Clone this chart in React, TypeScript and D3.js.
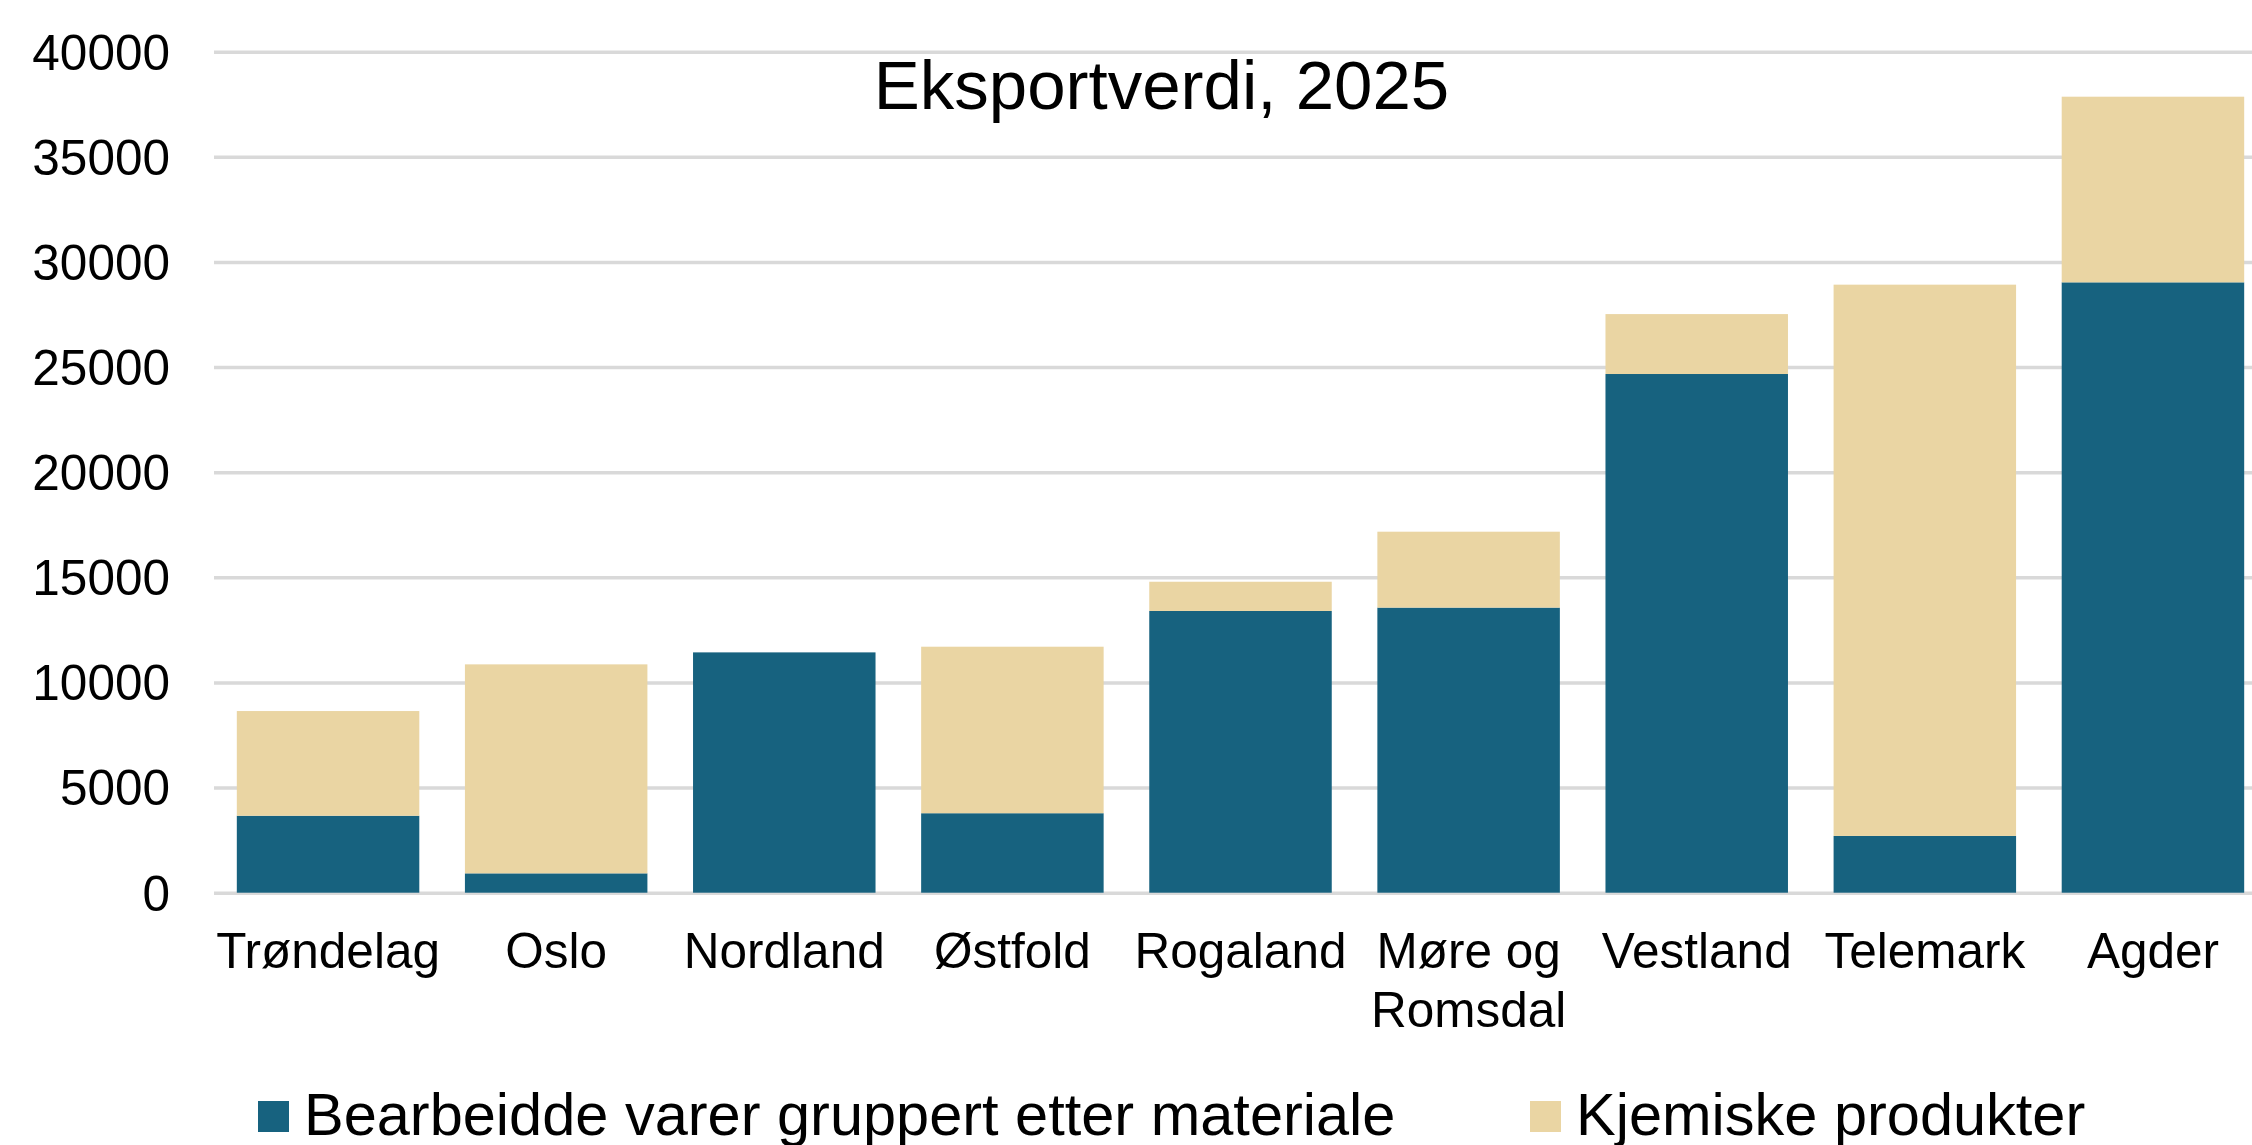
import React, { useRef, useEffect } from "react";
import * as d3 from "d3";

const categories = [
  "Trøndelag",
  "Oslo",
  "Nordland",
  "Østfold",
  "Rogaland",
  "Møre og Romsdal",
  "Vestland",
  "Telemark",
  "Agder",
];
const bearbeidde = [3660, 920, 11430, 3780, 13400, 13560, 24670, 2700, 29030];
const kjemiske = [4980, 9940, 0, 7920, 1390, 3610, 2850, 26220, 8830];
const yTicks = [0, 5000, 10000, 15000, 20000, 25000, 30000, 35000, 40000];
const seriesNames = ["Bearbeidde varer gruppert etter materiale", "Kjemiske produkter"];
const seriesColors = ["#17627F", "#EAD5A3"];
const title = "Eksportverdi, 2025";

const W = 2252;
const H = 1145;
const FONT = "'Liberation Sans', Arial, sans-serif";

const Chart = () => {
  const svgRef = useRef<SVGSVGElement>(null);

  useEffect(() => {
    const svg = d3.select(svgRef.current);
    svg.selectAll("*").remove();

    const left = 214;
    const right = 2267; // plot runs a bit past the picture edge
    const top = 51.7;
    const bottom = 892.7;

    const data = categories.map((c, i) => ({
      cat: c,
      b: bearbeidde[i],
      k: kjemiske[i],
    }));

    const x = d3
      .scaleBand<string>()
      .domain(categories)
      .range([left, right])
      .paddingInner(0.2)
      .paddingOuter(0.1);
    const y = d3.scaleLinear().domain([0, 40000]).range([bottom, top]);

    // grid + y labels
    const yAxis = d3
      .axisLeft(y)
      .tickValues(yTicks)
      .tickSize(-(W - left))
      .tickPadding(44)
      .tickFormat(d3.format("d"));
    const yG = svg.append("g").attr("transform", `translate(${left},0)`).call(yAxis);
    yG.select(".domain").remove();
    yG.selectAll(".tick line").attr("stroke", "#D9D9D9").attr("stroke-width", 3.5);
    yG.selectAll(".tick text")
      .attr("font-family", FONT)
      .attr("font-size", 49.5)
      .attr("fill", "#000")
      .attr("dy", "0.35em");

    // stacked bars
    const stack = d3.stack<any>().keys(["b", "k"]);
    const layers = stack(data);
    svg
      .append("g")
      .selectAll("g")
      .data(layers)
      .join("g")
      .attr("fill", (_d, i) => seriesColors[i])
      .selectAll("rect")
      .data((d) => d)
      .join("rect")
      .attr("x", (d: any) => x(d.data.cat)!)
      .attr("width", x.bandwidth())
      .attr("y", (d) => y(d[1]))
      .attr("height", (d) => Math.max(0, y(d[0]) - y(d[1])));

    // x labels
    const xl = svg
      .append("g")
      .attr("font-family", FONT)
      .attr("font-size", 49.5)
      .attr("text-anchor", "middle")
      .attr("fill", "#000");
    categories.forEach((c) => {
      const lines = c === "Møre og Romsdal" ? ["Møre og", "Romsdal"] : [c];
      const t = xl
        .append("text")
        .attr("x", x(c)! + x.bandwidth() / 2)
        .attr("y", 968);
      lines.forEach((ln, j) => {
        t.append("tspan")
          .attr("x", x(c)! + x.bandwidth() / 2)
          .attr("dy", j === 0 ? 0 : 58.5)
          .text(ln);
      });
    });

    // title
    svg
      .append("text")
      .attr("x", 1161.5)
      .attr("y", 109)
      .attr("text-anchor", "middle")
      .attr("font-family", FONT)
      .attr("font-size", 69)
      .attr("fill", "#000")
      .text(title);

    // legend (bottom edge clips descenders, like the original)
    const legendX = [258, 1530];
    const lg = svg.append("g").attr("font-family", FONT).attr("font-size", 59.5);
    seriesNames.forEach((name, i) => {
      lg.append("rect")
        .attr("x", legendX[i])
        .attr("y", 1101)
        .attr("width", 31)
        .attr("height", 31)
        .attr("fill", seriesColors[i]);
      lg.append("text")
        .attr("x", legendX[i] + 46)
        .attr("y", 1135)
        .attr("fill", "#000")
        .text(name);
    });
  }, []);

  return (
    <svg
      ref={svgRef}
      width={W}
      height={H}
      style={{ position: "absolute", left: 0, top: 0, background: "#fff" }}
    />
  );
};

const App = () => <Chart />;

export default App;
